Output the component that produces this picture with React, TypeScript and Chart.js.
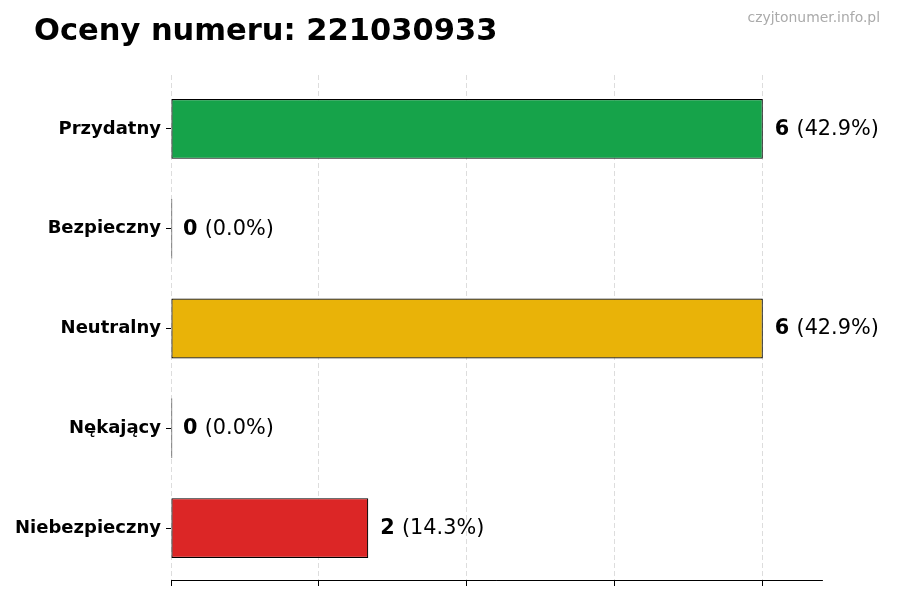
import { useEffect, useRef } from "react";
import { Chart, registerables } from "chart.js";

Chart.register(...registerables);

const FONT = '"DejaVu Sans", sans-serif';

const categories = ["Przydatny", "Bezpieczny", "Neutralny", "Nękający", "Niebezpieczny"];
const counts = [6, 0, 6, 0, 2];
const barColors = ["#16a34a", "#94a3b8", "#e9b308", "#f97316", "#dc2626"];
const xTicks = [0, 1.5, 3, 4.5, 6];
const xMax = 6.6;
const yMin = -0.54;
const yMax = 4.52;

const title = "Oceny numeru: 221030933";
const watermark = "czyjtonumer.info.pl";

const total = counts.reduce((a, b) => a + b, 0);

// title, watermark and the "n (pct%)" labels at the bar ends
const textPlugin = {
  id: "texts",
  afterDatasetsDraw(chart: any) {
    const ctx = chart.ctx;
    ctx.save();
    ctx.fillStyle = "#000";
    ctx.textAlign = "left";
    ctx.textBaseline = "alphabetic";
    ctx.font = `bold 30.5px ${FONT}`;
    ctx.fillText(title, 34, 40);

    ctx.fillStyle = "#aaaaaa";
    ctx.textAlign = "right";
    ctx.font = `13.9px ${FONT}`;
    ctx.fillText(watermark, 880, 22);

    const meta = chart.getDatasetMeta(0);
    ctx.textAlign = "left";
    ctx.textBaseline = "middle";
    meta.data.forEach((bar: any, i: number) => {
      const v = counts[i];
      const pct = total ? ((v / total) * 100).toFixed(1) : "0.0";
      const x0 = chart.scales.x.getPixelForValue(v) + 12;
      const y = bar.y + 0.5;
      ctx.fillStyle = "#000";
      ctx.font = `bold 20.8px ${FONT}`;
      const num = String(v);
      ctx.fillText(num, x0, y);
      const w = ctx.measureText(num + " ").width;
      ctx.font = `20.8px ${FONT}`;
      ctx.fillText(`(${pct}%)`, x0 + w, y);
    });
    ctx.restore();
  },
};

const App = () => {
  const chartRef = useRef<HTMLCanvasElement | null>(null);
  const chartInstance = useRef<Chart<"bar"> | null>(null);

  useEffect(() => {
    document.body.style.margin = "0";
    if (chartInstance.current) {
      chartInstance.current.destroy();
    }
    const myChartRef: any = chartRef.current?.getContext("2d");

    chartInstance.current = new Chart(myChartRef, {
      type: "bar",
      data: {
        datasets: [
          {
            data: counts.map((v, i) => ({ x: v, y: i })),
            backgroundColor: barColors,
            borderColor: "#000",
            borderWidth: 1.2,
            borderSkipped: false,
            minBarLength: 1.3,
            barPercentage: 0.6,
            categoryPercentage: 1,
          },
        ],
      },
      options: {
        indexAxis: "y",
        animation: false,
        responsive: true,
        maintainAspectRatio: false,
        layout: { padding: { top: 75, right: 78, bottom: 0, left: 0 } },
        plugins: {
          legend: { display: false },
          tooltip: { enabled: false },
          title: { display: false },
        },
        scales: {
          x: {
            type: "linear",
            min: 0,
            max: xMax,
            bounds: "data",
            afterBuildTicks: (scale: any) => {
              scale.ticks = xTicks.map((v) => ({ value: v }));
            },
            afterFit: (scale: any) => {
              scale.height = 20;
            },
            ticks: { display: false },
            grid: {
              color: "rgba(0,0,0,0.17)",
              lineWidth: 0.8,
              drawTicks: true,
              tickLength: 6,
              tickColor: "#000",
              tickWidth: 1,
              tickBorderDash: [],
            },
            border: { display: true, color: "#000", width: 1, dash: [5, 3] },
          },
          y: {
            type: "linear",
            min: yMin,
            max: yMax,
            bounds: "data",
            reverse: true,
            offset: false,
            afterBuildTicks: (scale: any) => {
              scale.ticks = categories.map((_, i) => ({ value: i }));
            },
            afterFit: (scale: any) => {
              scale.width = 171;
            },
            ticks: {
              color: "#000",
              padding: 5,
              font: { family: FONT, size: 18, weight: "bold" },
              callback: (v: any) => categories[v] ?? "",
            },
            grid: {
              offset: false,
              drawOnChartArea: false,
              drawTicks: true,
              tickLength: 5,
              tickColor: "#000",
            },
            border: { display: false },
          },
        },
      } as any,
      plugins: [textPlugin],
    });

    return () => {
      if (chartInstance.current) {
        chartInstance.current.destroy();
      }
    };
  }, []);

  return (
    <div style={{ position: "fixed", left: 0, top: 0, width: 900, height: 600, background: "#fff" }}>
      <canvas ref={chartRef}></canvas>
    </div>
  );
};

export default App;
